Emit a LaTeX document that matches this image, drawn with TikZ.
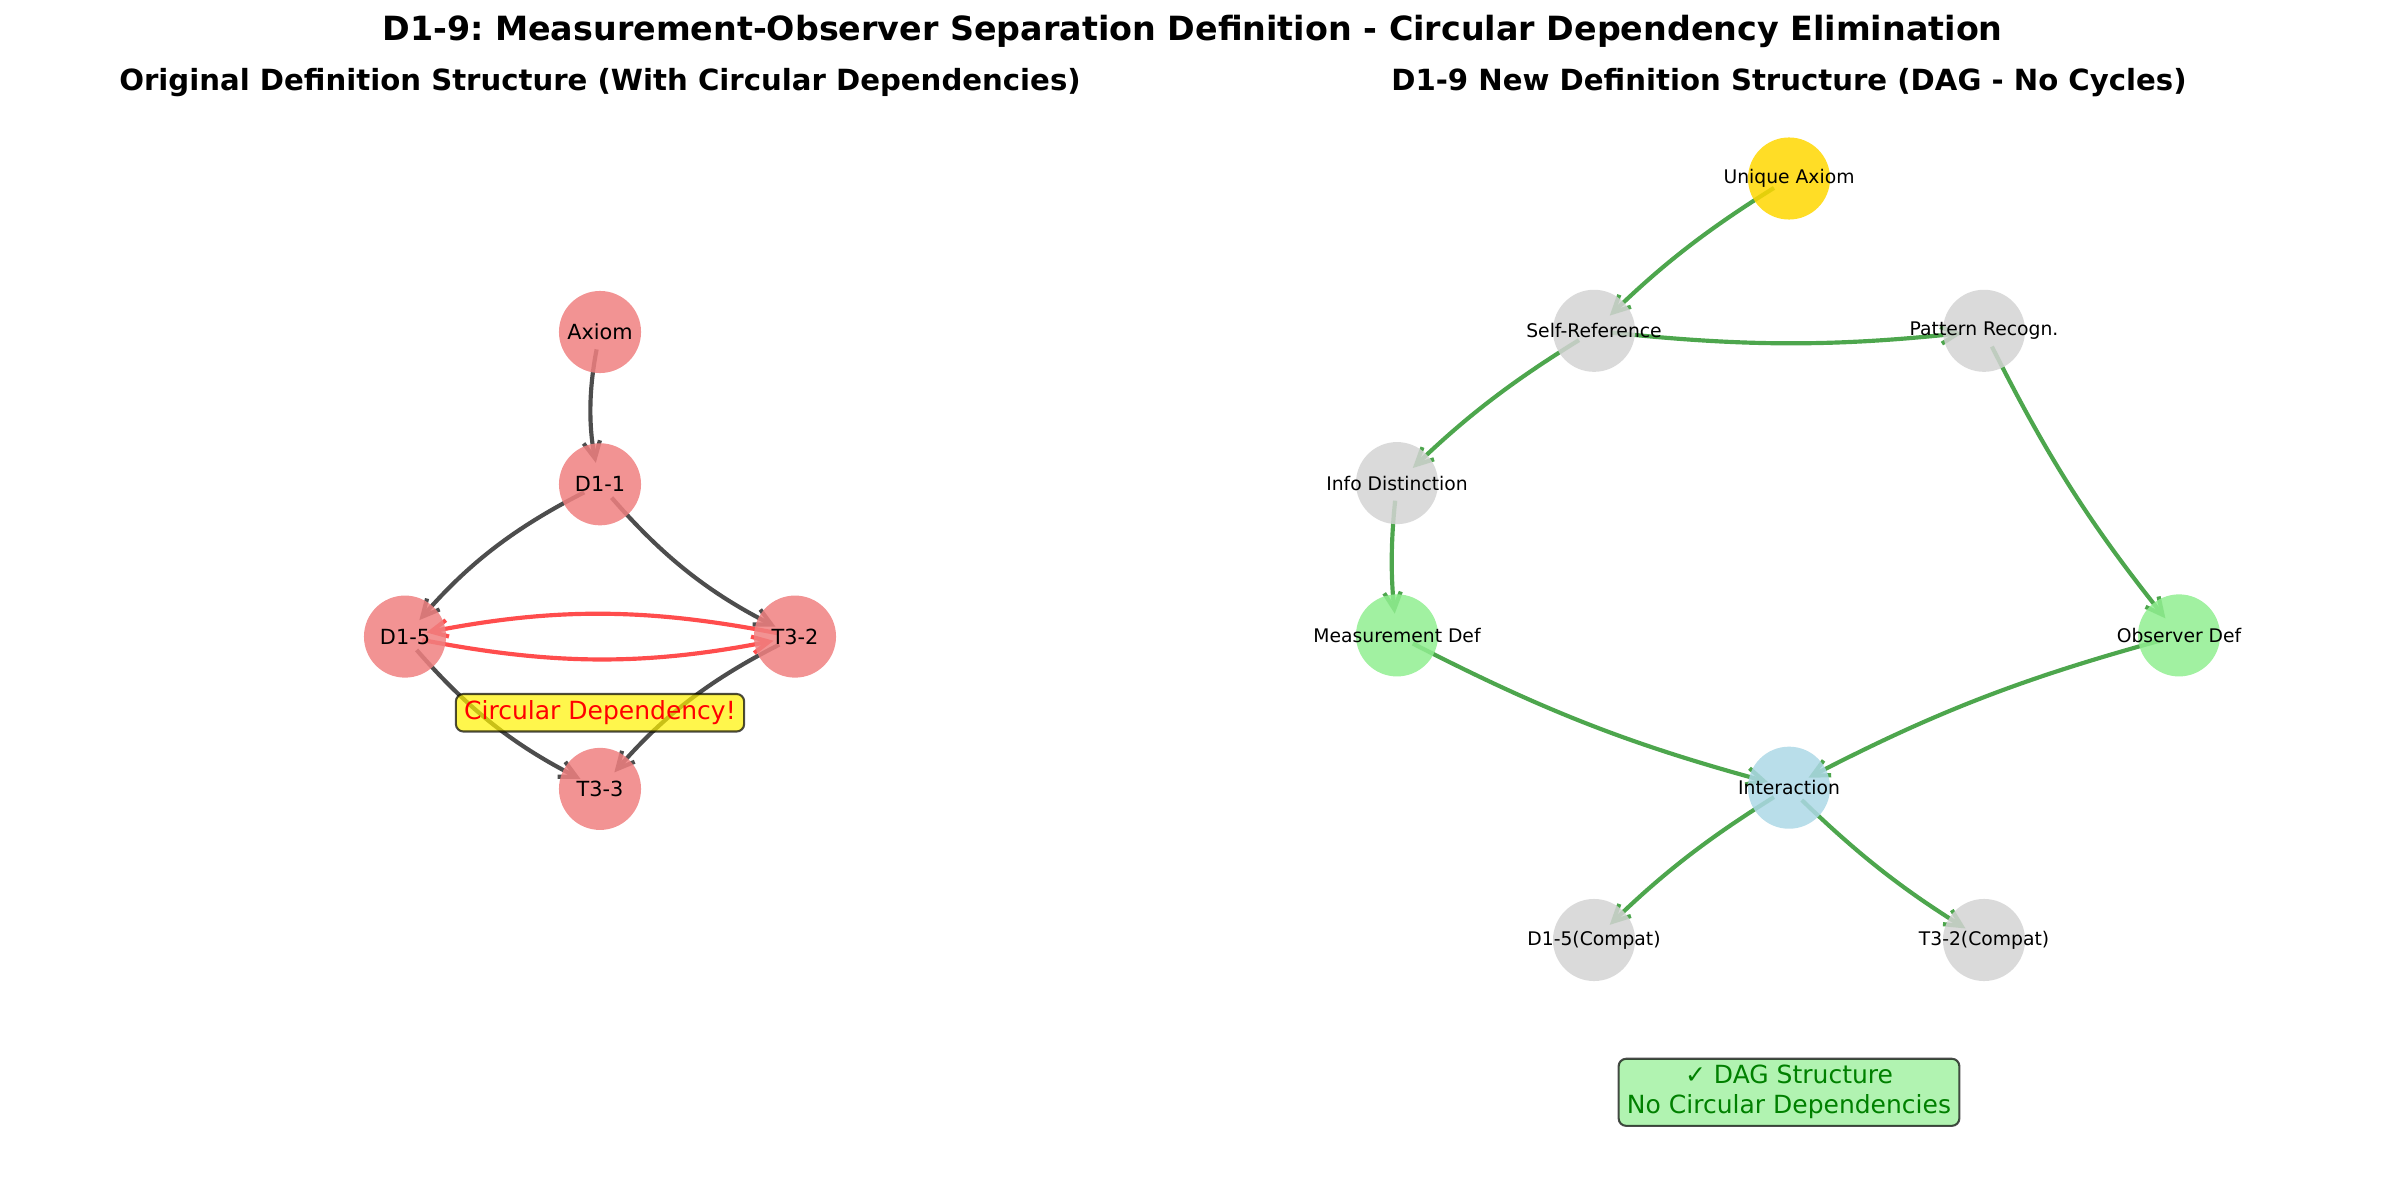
\documentclass[tikz,border=0pt]{standalone}
\usepackage{fontspec}
\setmainfont{DejaVu Sans}
\usetikzlibrary{arrows.meta,backgrounds}
\frenchspacing

\definecolor{nodered}{RGB}{240,128,128}
\definecolor{nodegold}{RGB}{255,215,0}
\definecolor{nodegray}{RGB}{211,211,211}
\definecolor{nodegreen}{RGB}{144,238,144}
\definecolor{nodeblue}{RGB}{173,216,230}
\definecolor{edgegray}{RGB}{77,77,77}
\definecolor{edgered}{RGB}{255,77,77}
\definecolor{edgegreen}{RGB}{77,166,77}
\definecolor{textgreen}{RGB}{0,128,0}

\tikzset{
  defnode/.style={circle,minimum size=39.4pt,inner sep=0pt,fill opacity=0.85,text opacity=1},
  oldnode/.style={defnode,fill=nodered,font=\fontsize{10}{12}\selectfont},
  newnode/.style={defnode,font=\fontsize{9}{11}\selectfont},
  dep/.style={->,line width=2pt,shorten <=8.5pt,shorten >=10.5pt},
  note/.style={draw=black,draw opacity=0.7,fill opacity=0.7,text opacity=1,line width=1pt,
    rounded corners=3.6pt,font=\fontsize{12}{14.4}\selectfont,inner xsep=4pt,inner ysep=3.2pt}
}

\begin{document}
\begin{tikzpicture}[x=0.48pt,y=-0.48pt,>={Straight Barb[length=8pt,width=8pt]}]
\useasboundingbox (0,0) rectangle (2385,1183);
\pgfmathsetmacro{\xa}{600}
\pgfmathsetmacro{\xb}{1789}
\pgfmathsetmacro{\d}{195}
\pgfmathsetmacro{\h}{152.3}

\node[anchor=base,font=\fontsize{16}{19}\selectfont\bfseries] (title) at (1192.5,41)
  {D1-9: Measurement-Observer Separation Definition - Circular Dependency Elimination};
\node[anchor=base,font=\fontsize{14}{17}\selectfont\bfseries] (oldtitle) at (\xa,91)
  {Original Definition Structure (With Circular Dependencies)};
\node[anchor=base,font=\fontsize{14}{17}\selectfont\bfseries] (newtitle) at (\xb,91)
  {D1-9 New Definition Structure (DAG - No Cycles)};

% original structure
\node[oldnode] (axiom) at (\xa,332) {Axiom};
\node[oldnode] (d11) at (\xa,332+\h) {D1-1};
\node[oldnode] (d15) at (\xa-\d,332+2*\h) {D1-5};
\node[oldnode] (t32) at (\xa+\d,332+2*\h) {T3-2};
\node[oldnode] (t33) at (\xa,332+3*\h) {T3-3};

\begin{pgfonlayer}{background}
\draw[dep,edgegray] (axiom.center) to[bend right=11] (d11.center);
\draw[dep,edgegray] (d11.center) to[bend right=11] (d15.center);
\draw[dep,edgegray] (d11.center) to[bend right=11] (t32.center);
\draw[dep,edgegray] (d15.center) to[bend right=11] (t33.center);
\draw[dep,edgegray] (t32.center) to[bend right=11] (t33.center);
\draw[dep,edgered] (d15.center) to[bend right=11] (t32.center);
\draw[dep,edgered] (t32.center) to[bend right=11] (d15.center);
\end{pgfonlayer}

\node[note,fill=yellow,text=red] (circ) at (\xa,332+2.5*\h) {Circular Dependency!};

% new structure (DAG)
\node[newnode,fill=nodegold] (uaxiom) at (\xb,178.5) {\makebox[0pt]{Unique Axiom}};
\node[newnode,fill=nodegray] (selfref) at (\xb-\d,178.5+\h) {\makebox[0pt]{Self-Reference}};
\node[newnode,fill=nodegray] (pattern) at (\xb+\d,178.5+\h) {\makebox[0pt]{Pattern Recogn.}};
\node[newnode,fill=nodegray] (info) at (\xb-2*\d-2,178.5+2*\h) {\makebox[0pt]{Info Distinction}};
\node[newnode,fill=nodegreen] (meas) at (\xb-2*\d-2,178.5+3*\h) {\makebox[0pt]{Measurement Def}};
\node[newnode,fill=nodegreen] (obs) at (\xb+2*\d,178.5+3*\h) {\makebox[0pt]{Observer Def}};
\node[newnode,fill=nodeblue] (inter) at (\xb,178.5+4*\h) {\makebox[0pt]{Interaction}};
\node[newnode,fill=nodegray] (d15c) at (\xb-\d,178.5+5*\h) {\makebox[0pt]{D1-5(Compat)}};
\node[newnode,fill=nodegray] (t32c) at (\xb+\d,178.5+5*\h) {\makebox[0pt]{T3-2(Compat)}};

\begin{pgfonlayer}{background}
\draw[dep,edgegreen] (uaxiom.center) to[bend right=6] (selfref.center);
\draw[dep,edgegreen] (selfref.center) to[bend right=6] (pattern.center);
\draw[dep,edgegreen] (selfref.center) to[bend right=6] (info.center);
\draw[dep,edgegreen] (info.center) to[bend right=6] (meas.center);
\draw[dep,edgegreen] (pattern.center) to[bend right=6] (obs.center);
\draw[dep,edgegreen] (meas.center) to[bend right=6] (inter.center);
\draw[dep,edgegreen] (obs.center) to[bend right=6] (inter.center);
\draw[dep,edgegreen] (inter.center) to[bend right=6] (d15c.center);
\draw[dep,edgegreen] (inter.center) to[bend right=6] (t32c.center);
\end{pgfonlayer}

\node[note,fill=nodegreen,text=textgreen,align=center] (dag) at (\xb,178.5+6*\h)
  {✓ DAG Structure\\No Circular Dependencies};

\end{tikzpicture}
\end{document}
